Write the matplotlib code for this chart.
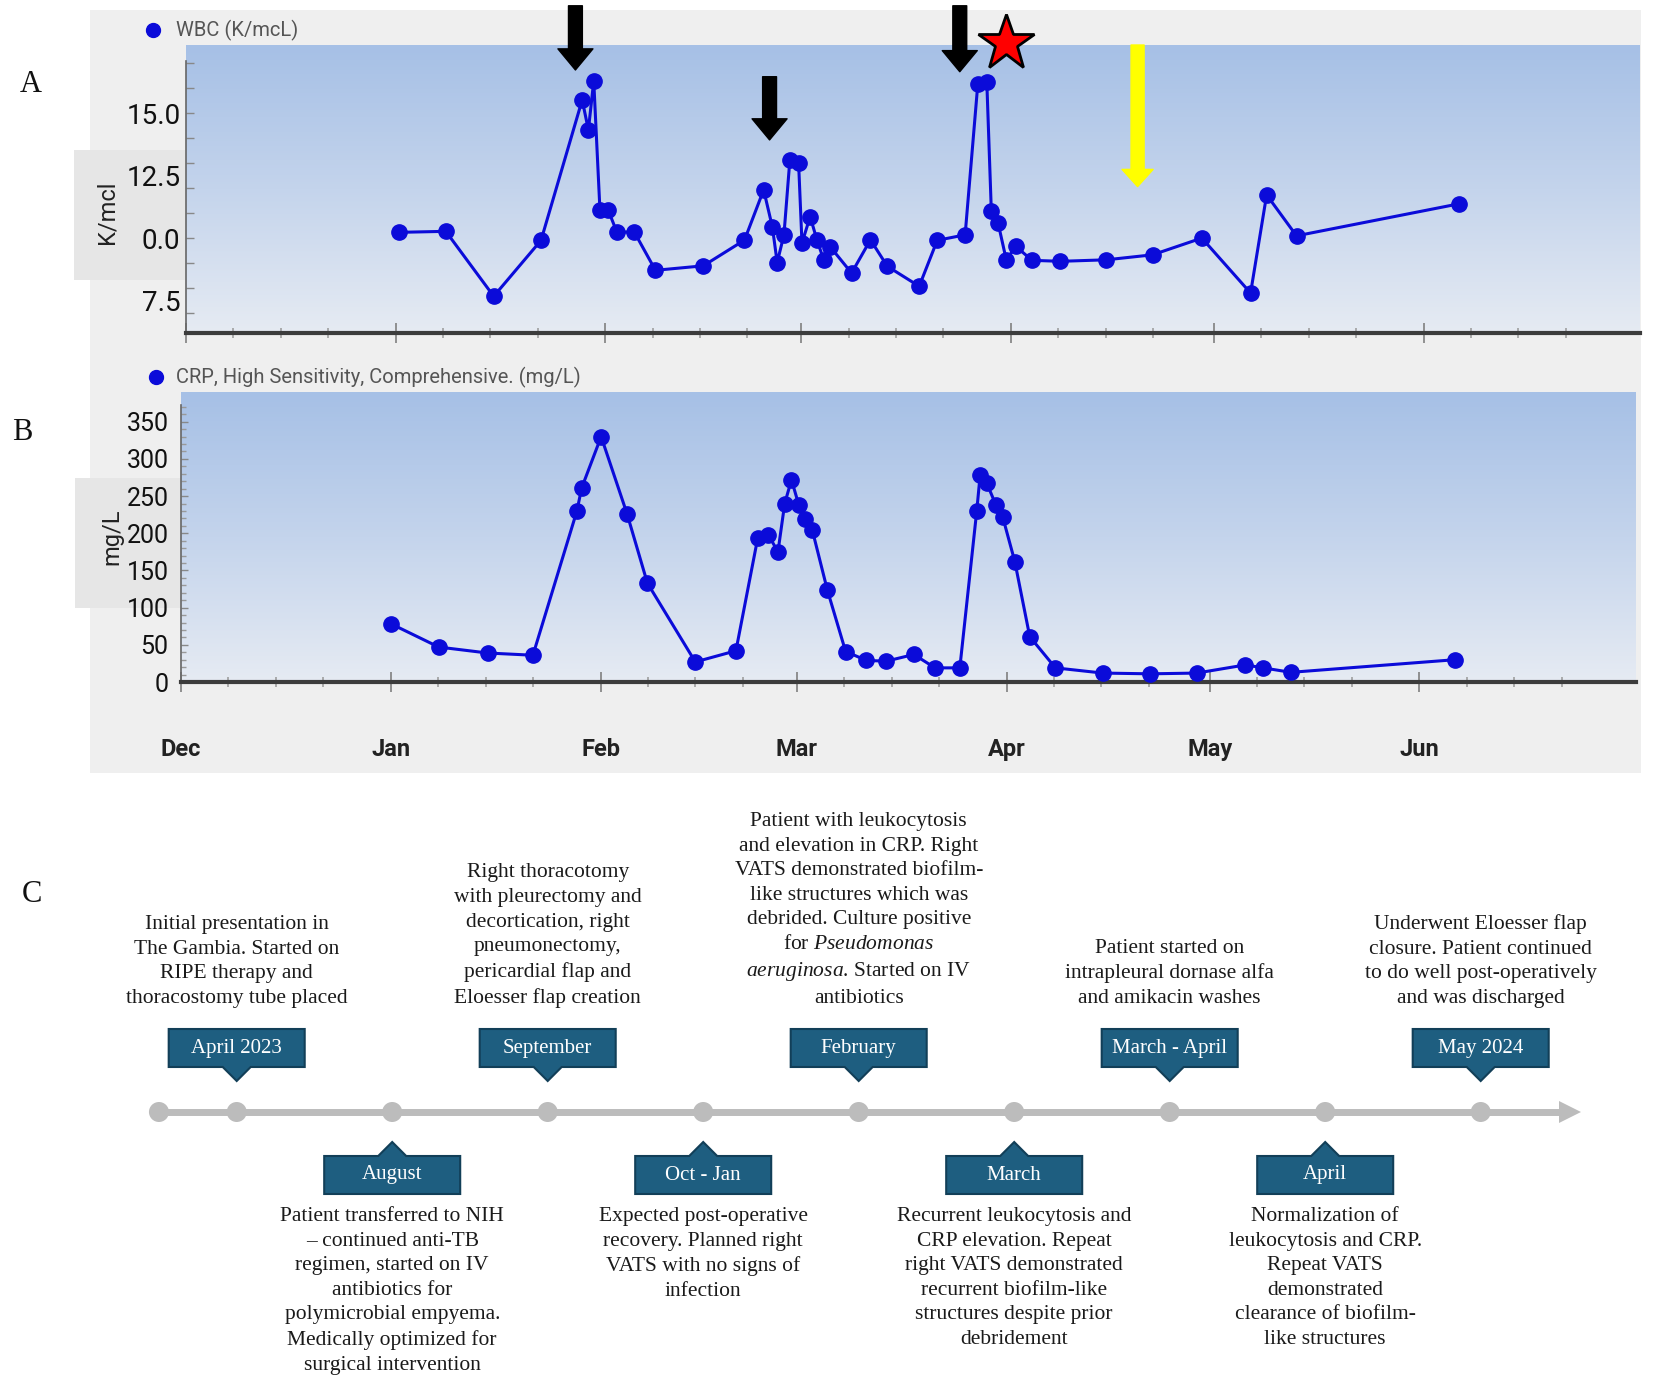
import matplotlib
matplotlib.use('Agg')
import matplotlib.pyplot as plt
import matplotlib.dates as mdates
import numpy as np
import pandas as pd
from matplotlib.patches import Rectangle, Polygon, Circle, FancyArrowPatch
from matplotlib.colors import LinearSegmentedColormap

plt.rcParams['mathtext.fontset'] = 'custom'
plt.rcParams['mathtext.rm'] = 'Liberation Serif'
plt.rcParams['mathtext.it'] = 'Liberation Serif:italic'
plt.rcParams['mathtext.bf'] = 'Liberation Serif:bold'

# --- WBC (K/mcL) ---
wbc_dates = ['2024-01-01 12:00', '2024-01-08 10:00', '2024-01-15 12:00', '2024-01-22 12:00',
             '2024-01-28 14:00', '2024-01-29 12:00', '2024-01-30 07:00', '2024-01-31 05:00',
             '2024-02-01 10:00', '2024-02-02 17:00', '2024-02-05 07:00', '2024-02-08 10:00',
             '2024-02-15 12:00', '2024-02-21 14:00', '2024-02-24 10:00', '2024-02-25 17:00',
             '2024-02-26 10:00', '2024-02-27 10:00', '2024-02-28 07:00', '2024-02-29 14:00',
             '2024-03-01 02:00', '2024-03-02 07:00', '2024-03-03 07:00', '2024-03-04 07:00',
             '2024-03-05 07:00', '2024-03-08 10:00', '2024-03-11 05:00', '2024-03-13 17:00',
             '2024-03-18 10:00', '2024-03-21 02:00', '2024-03-25 05:00', '2024-03-27 02:00',
             '2024-03-28 10:00', '2024-03-29 02:00', '2024-03-30 02:00', '2024-03-31 07:00',
             '2024-04-01 17:00', '2024-04-04 02:00', '2024-04-08 07:00', '2024-04-15 02:00',
             '2024-04-21 22:00', '2024-04-29 05:00', '2024-05-06 10:00', '2024-05-08 19:00',
             '2024-05-13 05:00', '2024-06-06 05:00']
wbc_vals = [10.23, 10.27, 7.67, 9.91, 15.53, 14.33, 16.29, 11.13,
            11.13, 10.24, 10.24, 8.71, 8.89, 9.92, 11.93, 10.44,
            9.02, 10.13, 13.13, 13.0, 9.8, 10.86, 9.93, 9.13,
            9.64, 8.6, 9.93, 8.87, 8.07, 9.91, 10.13, 16.17,
            16.23, 11.07, 10.6, 9.13, 9.67, 9.11, 9.07, 9.13,
            9.33, 10.0, 7.8, 11.73, 10.09, 11.37]

# --- CRP (mg/L) ---
crp_dates = ['2024-01-01 02:00', '2024-01-08 02:00', '2024-01-15 07:00', '2024-01-22 00:00',
             '2024-01-28 12:00', '2024-01-29 05:00', '2024-02-01 02:00', '2024-02-04 22:00',
             '2024-02-07 22:00', '2024-02-15 00:00', '2024-02-21 00:00', '2024-02-24 05:00',
             '2024-02-25 19:00', '2024-02-27 05:00', '2024-02-28 05:00', '2024-02-29 05:00',
             '2024-03-01 07:00', '2024-03-02 05:00', '2024-03-03 07:00', '2024-03-05 12:00',
             '2024-03-08 05:00', '2024-03-11 07:00', '2024-03-14 05:00', '2024-03-18 07:00',
             '2024-03-21 10:00', '2024-03-25 02:00', '2024-03-27 14:00', '2024-03-28 02:00',
             '2024-03-29 02:00', '2024-03-30 10:00', '2024-03-31 10:00', '2024-04-02 05:00',
             '2024-04-04 10:00', '2024-04-08 05:00', '2024-04-15 05:00', '2024-04-22 05:00',
             '2024-04-29 02:00', '2024-05-06 07:00', '2024-05-08 22:00', '2024-05-13 00:00',
             '2024-06-06 07:00']
crp_vals = [78, 47, 39, 36, 230, 261, 330, 226,
            133, 27, 42, 193, 198, 175, 240, 272,
            238, 219, 204, 124, 41, 29, 28, 37,
            19, 19, 230, 278, 267, 238, 222, 162,
            61, 19, 12, 11, 12, 23, 19, 13,
            30]

month_ticks = ['2023-12-01', '2024-01-01', '2024-02-01', '2024-03-01',
               '2024-04-01', '2024-05-01', '2024-06-01']
month_labels = ['Dec', 'Jan', 'Feb', 'Mar', 'Apr', 'May', 'Jun']
x_range = ['2023-12-01', '2024-07-03']

wbc_ticks = [7.5, 10.0, 12.5, 15.0]
wbc_ticklabels = ['7.5', '0.0', '12.5', '15.0']
crp_ticks = [0, 50, 100, 150, 200, 250, 300, 350]

# markers drawn over panel A
black_arrow_dates = ['2024-01-27 14:00', '2024-02-25 07:00', '2024-03-24 10:00']
black_arrow_tops = [19.3, 16.46, 19.3]
black_arrow_tips = [16.73, 13.93, 16.66]
star_date, star_y = '2024-03-31 07:00', 17.8
yellow_date, yellow_top, yellow_tip = '2024-04-19 17:00', 17.73, 12.06

# --- timeline (panel C) ---
events = [
    ('April 2023', 'top', "Initial presentation in\nThe Gambia. Started on\nRIPE therapy and\nthoracostomy tube placed"),
    ('August', 'bottom', "Patient transferred to NIH\n\u2013 continued anti-TB\nregimen, started on IV\nantibiotics for\n"
                         "polymicrobial empyema.\nMedically optimized for\nsurgical intervention"),
    ('September', 'top', "Right thoracotomy\nwith pleurectomy and\ndecortication, right\npneumonectomy,\n"
                         "pericardial flap and\nEloesser flap creation"),
    ('Oct - Jan', 'bottom', "Expected post-operative\nrecovery. Planned right\nVATS with no signs of\ninfection"),
    ('February', 'top', "Patient with leukocytosis\nand elevation in CRP. Right\nVATS demonstrated biofilm-\n"
                        "like structures which was\ndebrided. Culture positive\nfor $\\mathit{Pseudomonas}$\n"
                        "$\\mathit{aeruginosa}$. Started on IV\nantibiotics"),
    ('March', 'bottom', "Recurrent leukocytosis and\nCRP elevation. Repeat\nright VATS demonstrated\n"
                        "recurrent biofilm-like\nstructures despite prior\ndebridement"),
    ('March - April', 'top', "Patient started on\nintrapleural dornase alfa\nand amikacin washes"),
    ('April', 'bottom', "Normalization of\nleukocytosis and CRP.\nRepeat VATS\ndemonstrated\n"
                        "clearance of biofilm-\nlike structures"),
    ('May 2024', 'top', "Underwent Eloesser flap\nclosure. Patient continued\nto do well post-operatively\nand was discharged"),
]

W, H = 1654, 1392
fig = plt.figure(figsize=(W / 100, H / 100), dpi=100)
fig.patch.set_facecolor('white')

def axes_px(l, t, r, b):
    return fig.add_axes([l / W, 1 - b / H, (r - l) / W, (b - t) / H])

SANS = 'Roboto'
SERIF = 'Liberation Serif'
BLUE = '#0b0bd9'

# background layer in pixel coordinates
bg = axes_px(0, 0, W, H)
bg.set_zorder(-1)
bg.axis('off')

bg.add_patch(Rectangle((90, 10), 1551, 763, facecolor='#efefef', edgecolor='none'))
bg.add_patch(Rectangle((74, 150), 116, 130, facecolor='#e6e6e6', edgecolor='none'))
bg.add_patch(Rectangle((75, 478), 106, 130, facecolor='#e6e6e6', edgecolor='none'))

grad = np.linspace(0, 1, 256).reshape(-1, 1)
cmap_bg = LinearSegmentedColormap.from_list('bg', ['#a6c0e6', '#c4d4ec', '#e6ebf3'])
bg.imshow(grad, cmap=cmap_bg, extent=[186, 1640, 333, 45], aspect='auto', origin='upper', zorder=1)
bg.imshow(grad, cmap=cmap_bg, extent=[181, 1636, 682, 392], aspect='auto', origin='upper', zorder=1)

for letter, (lx, ly) in zip('ABC', [(31, 85), (22, 432), (32, 895)]):
    bg.text(lx, ly, letter, fontsize=22, family=SERIF, ha='center', va='center', color='#111')

bg.plot([153], [30], 'o', ms=10, color=BLUE, zorder=3)
bg.text(176, 30, 'WBC (K/mcL)', fontsize=14.5, family=SANS, color='#555', va='center', zorder=3)
bg.plot([156], [377], 'o', ms=10, color=BLUE, zorder=3)
bg.text(176, 377, 'CRP, High Sensitivity, Comprehensive. (mg/L)', fontsize=14.5, family=SANS,
        color='#555', va='center', zorder=3)
bg.text(107, 212, 'K/mcl', rotation=90, fontsize=17, family=SANS, ha='center', va='center', color='#222', zorder=3)
bg.text(112, 537, 'mg/L', rotation=90, fontsize=17, family=SANS, ha='center', va='center', color='#222', zorder=3)

# timeline
step = 155.5
slot0 = 236.7
line_y = 1112
grey = '#bcbcbc'
start_x = slot0 - 0.5 * step
head_base = 1559
head_tip = 1581
bg.plot([start_x, head_base], [line_y, line_y], color=grey, lw=5, solid_capstyle='butt', zorder=2)
bg.add_patch(Polygon([[head_base, line_y - 11], [head_tip, line_y], [head_base, line_y + 11]],
                     closed=True, facecolor=grey, edgecolor='none', zorder=2))
for cx in [start_x] + [slot0 + i * step for i in range(len(events))]:
    bg.add_patch(Circle((cx, line_y), 10, facecolor=grey, edgecolor='none', zorder=3))

box_w, box_h, half = 136, 38, 14
box_face, box_edge = '#1e5e80', '#123f58'
for i, (label, side, desc) in enumerate(events):
    cx = slot0 + i * step
    l, r = cx - box_w / 2, cx + box_w / 2
    if side == 'top':
        t = 1029
        b = t + box_h
        pts = [[l, t], [r, t], [r, b], [cx + half, b], [cx, 1081], [cx - half, b], [l, b]]
        bg.text(cx, 1008, desc, fontsize=15.5, family=SERIF, ha='center', va='bottom',
                multialignment='center', linespacing=1.4, color='#1a1a1a', zorder=3)
    else:
        t = 1156
        b = t + box_h
        pts = [[l, t], [cx - half, t], [cx, 1142], [cx + half, t], [r, t], [r, b], [l, b]]
        bg.text(cx, 1207, desc, fontsize=15.5, family=SERIF, ha='center', va='top',
                multialignment='center', linespacing=1.4, color='#1a1a1a', zorder=3)
    bg.add_patch(Polygon(pts, closed=True, facecolor=box_face, edgecolor=box_edge, lw=1.5, zorder=3))
    bg.text(cx, t + box_h / 2, label, fontsize=15, family=SERIF, color='white',
            ha='center', va='center', zorder=4)

bg.set_xlim(0, W)
bg.set_ylim(H, 0)

# chart panels
xlim = pd.to_datetime(x_range)
mt = pd.to_datetime(month_ticks)

def style_axis(ax):
    ax.patch.set_alpha(0)
    for s in ['top', 'right']:
        ax.spines[s].set_visible(False)
    ax.spines['bottom'].set_linewidth(3)
    ax.spines['bottom'].set_color('#3c3c3c')
    ax.spines['left'].set_linewidth(1.2)
    ax.spines['left'].set_color('#666')
    ax.set_xlim(xlim[0], xlim[1])
    ax.set_xticks(mt)
    ax.xaxis.set_minor_locator(mdates.DayLocator(bymonthday=[8, 15, 22]))
    ax.tick_params(axis='x', which='major', direction='inout', length=14, width=1.3, color='#888')
    ax.tick_params(axis='x', which='minor', direction='inout', length=7, width=1.1, color='#999')

axA = axes_px(186, 45, 1640, 333)
style_axis(axA)
axA.plot(pd.to_datetime(wbc_dates), wbc_vals, color=BLUE, lw=2.2, marker='o', ms=11, zorder=5)
axA.set_ylim(6.2, 17.73)
axA.spines['left'].set_bounds(6.2, 17.1)
axA.set_yticks(wbc_ticks, labels=wbc_ticklabels)
axA.set_yticks(np.arange(7, 18), minor=True)
axA.yaxis.remove_overlapping_locs = False
axA.tick_params(axis='y', which='major', length=0, pad=4, labelsize=20, labelcolor='#111')
axA.tick_params(axis='y', which='minor', direction='in', length=5.5, width=1, color='#888')
for lab in axA.get_yticklabels():
    lab.set_family(SANS)
axA.tick_params(axis='x', labelbottom=False)

for d, top, tip in zip(black_arrow_dates, black_arrow_tops, black_arrow_tips):
    x = mdates.date2num(pd.Timestamp(d))
    axA.add_patch(FancyArrowPatch((x, top), (x, tip), arrowstyle='simple,head_width=1.26,head_length=0.76,tail_width=0.5',
                                  mutation_scale=20, color='black', shrinkA=0, shrinkB=0,
                                  clip_on=False, zorder=10))
xs = mdates.date2num(pd.Timestamp(yellow_date))
axA.add_patch(FancyArrowPatch((xs, yellow_top), (xs, yellow_tip),
                              arrowstyle='simple,head_width=1.12,head_length=0.62,tail_width=0.47',
                              mutation_scale=20, color='#ffff00', shrinkA=0, shrinkB=0,
                              clip_on=False, zorder=10))
axA.plot([pd.Timestamp(star_date)], [star_y], marker='*', ms=42, mfc='#ff0000', mec='black', mew=2,
         clip_on=False, zorder=11)

axB = axes_px(181, 392, 1636, 682)
style_axis(axB)
axB.plot(pd.to_datetime(crp_dates), crp_vals, color=BLUE, lw=2.2, marker='o', ms=11, zorder=5)
axB.set_ylim(0, 390)
axB.spines['left'].set_bounds(0, 372)
axB.set_yticks(crp_ticks)
axB.set_yticks(np.arange(0, 371, 10), minor=True)
axB.tick_params(axis='y', which='major', direction='in', length=5, width=1, color='#888',
                pad=9, labelsize=18, labelcolor='#111')
axB.tick_params(axis='y', which='minor', direction='in', length=3.5, width=1, color='#999')
axB.set_xticks(mt, labels=month_labels)
axB.tick_params(axis='x', which='major', pad=33, labelsize=17)
for lab in axB.get_yticklabels():
    lab.set_family(SANS)
for lab in axB.get_xticklabels():
    lab.set_family(SANS)
    lab.set_fontweight('bold')
    lab.set_color('#222')

fig.savefig('out.png', dpi=100, facecolor='white')
